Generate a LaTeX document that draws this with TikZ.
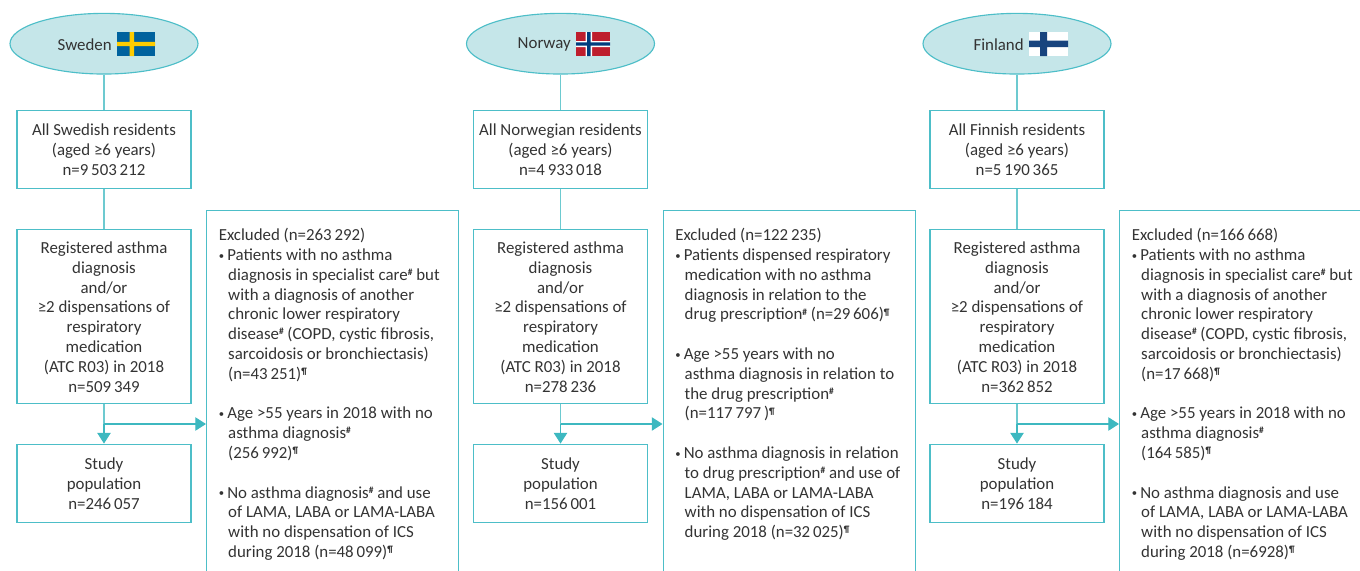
\documentclass[tikz,border=0pt]{standalone}
\usepackage{fontspec}
\usetikzlibrary{shapes.geometric,arrows.meta}
\setmainfont{Carlito}
\definecolor{teal1}{HTML}{4DBEC8}
\definecolor{teal2}{HTML}{3DB8C0}
\definecolor{fillc}{HTML}{C5E6E9}
\definecolor{ink}{HTML}{333333}
\definecolor{sweblue}{HTML}{00629E}
\definecolor{sweyel}{HTML}{FECC00}
\definecolor{norred}{HTML}{BE1E2D}
\definecolor{norblue}{HTML}{003D7D}
\definecolor{finblue}{HTML}{18447E}
\newcommand{\sh}[1]{\raisebox{3.6pt}{\fontsize{7pt}{7pt}\selectfont\textbf{#1}}}
\newcommand{\bu}{\makebox[6.4pt][l]{\raisebox{1pt}{\fontsize{8pt}{8pt}\selectfont•}}}
\newcommand{\hg}{\hspace*{7.1pt}}
\newcommand{\tp}{\rule{0pt}{9.4pt}}
\tikzset{
  every node/.style={text=ink,font=\fontsize{12.65pt}{14.85pt}\selectfont},
  country/.style={draw=teal1,fill=fillc,ellipse,line width=0.85pt,minimum width=141pt,minimum height=45.5pt,inner sep=0pt},
  flowbox/.style={draw=teal1,line width=0.9pt,minimum width=130.5pt,align=center,inner sep=0pt},
  exclbox/.style={draw=teal1,line width=0.9pt,minimum width=189pt,minimum height=300pt,anchor=north west,inner sep=0pt},
  exclt/.style={anchor=north west,align=left,inner sep=0pt},
  link/.style={draw=teal2!75,line width=0.9pt},
  arr/.style={draw=teal2,line width=0.9pt,-{Triangle[length=8pt,width=10pt,fill=teal2]}},
}
\newcommand{\column}[8]{%
  \node[country] (#1e) at (#2,43.7) {};
  \node[flowbox,minimum height=58.5pt] (#1a) at (#2,149.2) {\tp #3};
  \node[flowbox,minimum height=130pt] (#1b) at (#2,316.5) {\tp Registered asthma\\diagnosis\\and/or\\≥2 dispensations of\\respiratory\\medication\\(ATC R03) in 2018\\n=#4};
  \node[flowbox,minimum height=59pt] (#1c) at (#2,483.5) {\tp Study\\population\\n=#5};
  \node[exclbox] (#1x) at (#6,209.5) {};
  \coordinate (#1j) at (#2,424);
  \draw[link] (#1e) -- (#1a);
  \draw[link] (#1a) -- (#1b);
  \draw[link] (#1b) -- (#1j);
  \draw[arr] (#1j) -- (#1c);
  \draw[arr] (#1j) -- (#1j -| #1x.west);
  \node[exclt] (#1t) at (#7,#8) {\excltext};
}
\begin{document}
\begin{tikzpicture}[x=0.75pt,y=-0.75pt]
\useasboundingbox (0,0) rectangle (1360,571);
\clip (0,0) rectangle (1360,571);
% ---------- Sweden
\def\excltext{Excluded (n=263\,292)\\
\bu Patients with no asthma\\
\hg diagnosis in specialist care\sh{\#} but\\
\hg with a diagnosis of another\\
\hg chronic lower respiratory\\
\hg disease\sh{\#} (COPD, cystic fibrosis,\\
\hg sarcoidosis or bronchiectasis)\\
\hg (n=43\,251)\sh{¶}\\[14.85pt]
\bu Age >55 years in 2018 with no\\
\hg asthma diagnosis\sh{\#}\\
\hg (256\,992)\sh{¶}\\[14.85pt]
\bu No asthma diagnosis\sh{\#} and use\\
\hg of LAMA, LABA or LAMA-LABA\\
\hg with no dispensation of ICS\\
\hg during 2018 (n=48\,099)\sh{¶}}
\column{s}{104}{All Swedish residents\\(aged ≥6 years)\\n=9\,503\,212}{509\,349}{246\,057}{206}{218.5}{228}
\node[anchor=east,inner sep=0pt] (sl) at (112,44.8) {Sweden};
\fill[sweblue] (117,32) rectangle (155,56);
\fill[sweyel] (129.5,32) rectangle (134,56) (117,41.8) rectangle (155,46.2);
% ---------- Norway
\def\excltext{Excluded (n=122\,235)\\
\bu Patients dispensed respiratory\\
\hg medication with no asthma\\
\hg diagnosis in relation to the\\
\hg drug prescription\sh{\#} (n=29\,606)\sh{¶}\\[14.85pt]
\bu Age >55 years with no\\
\hg asthma diagnosis in relation to\\
\hg the drug prescription\sh{\#}\\
\hg (n=117\,797\,)\sh{¶}\\[14.85pt]
\bu No asthma diagnosis in relation\\
\hg to drug prescription\sh{\#} and use of\\
\hg LAMA, LABA or LAMA-LABA\\
\hg with no dispensation of ICS\\
\hg during 2018 (n=32\,025)\sh{¶}}
\column{n}{560.5}{All Norwegian residents\\(aged ≥6 years)\\n=4\,933\,018}{278\,236}{156\,001}{662.5}{675}{228}
\node[anchor=east,inner sep=0pt] (nl) at (571,44.8) {Norway};
\fill[norred] (576,32) rectangle (610,56);
\fill[white] (585.5,32) rectangle (592,56) (576,41) rectangle (610,47);
\fill[norblue] (587,32) rectangle (590.5,56) (576,42.3) rectangle (610,45.7);
% ---------- Finland
\def\excltext{Excluded (n=166\,668)\\
\bu Patients with no asthma\\
\hg diagnosis in specialist care\sh{\#} but\\
\hg with a diagnosis of another\\
\hg chronic lower respiratory\\
\hg disease\sh{\#} (COPD, cystic fibrosis,\\
\hg sarcoidosis or bronchiectasis)\\
\hg (n=17\,668)\sh{¶}\\[14.85pt]
\bu Age >55 years in 2018 with no\\
\hg asthma diagnosis\sh{\#}\\
\hg (164\,585)\sh{¶}\\[14.85pt]
\bu No asthma diagnosis and use\\
\hg of LAMA, LABA or LAMA-LABA\\
\hg with no dispensation of ICS\\
\hg during 2018 (n=6928)\sh{¶}}
\column{f}{1017}{All Finnish residents\\(aged ≥6 years)\\n=5\,190\,365}{362\,852}{196\,184}{1119}{1131.5}{228}
\node[anchor=east,inner sep=0pt] (fl) at (1024,44.8) {Finland};
\fill[white] (1029,32) rectangle (1068,56);
\fill[finblue] (1040,32) rectangle (1047,56) (1029,40.5) rectangle (1068,47);
\end{tikzpicture}
\end{document}
